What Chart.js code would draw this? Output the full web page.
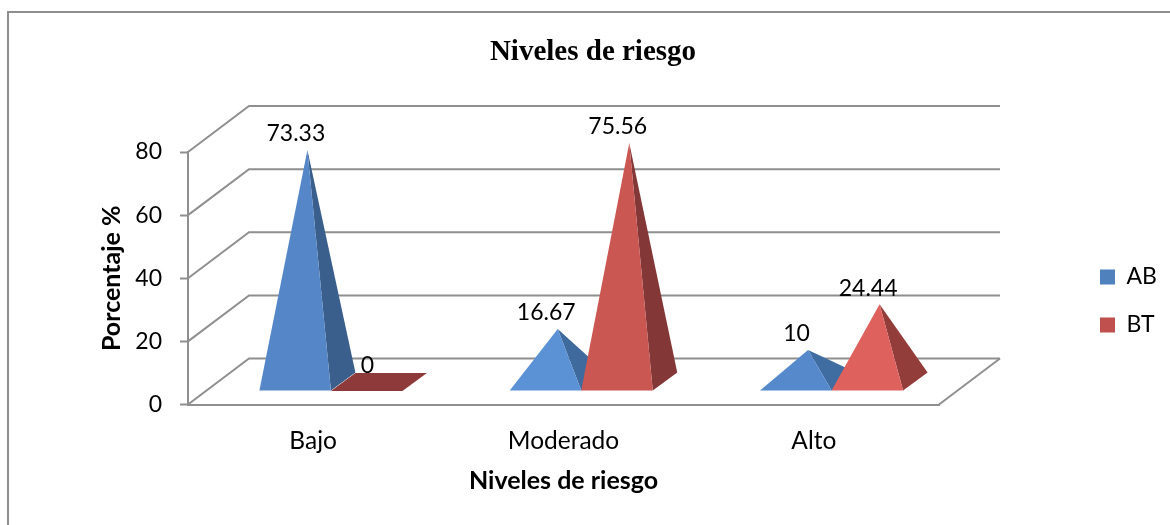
<!DOCTYPE html>
<html>
<head>
<meta charset="utf-8">
<title>Niveles de riesgo</title>
<script src="https://cdn.jsdelivr.net/npm/chart.js@4"></script>
<style>
  html, body { margin: 0; background: #fff; overflow: hidden; }
  .frame { position: absolute; left: 7px; top: 11px; right: 0; bottom: 0; border-left: 2px solid #8e8e8e; border-top: 2px solid #8e8e8e; }
  canvas { position: absolute; left: 0; top: 0; }
</style>
</head>
<body>
<div class="frame"></div>
<canvas class="myChart" width="1170" height="525"></canvas>
<script>
const categories = ["Bajo", "Moderado", "Alto"];
const valuesAB = [73.33, 16.67, 10];
const valuesBT = [0, 75.56, 24.44];
const yTicks = [0, 20, 40, 60, 80];

// cara frontal y cara lateral de cada piramide
const frontAB = ["#5587c8", "#5b92d6", "#5589cc"];
const sideAB = ["#3a5f8c", "#3e6a9e", "#3f6ca1"];
const frontBT = ["#c0504d", "#cb5753", "#df615e"];
const sideBT = ["#8f3a3a", "#843737", "#933d3b"];

const gridColor = "#8f8f8f";
const fontName = "Lato, sans-serif";
const floorDepth = { x: 61, y: -46 };
const baseDepth = { x: 24.5, y: -18 };

function polygon(ctx, points, color) {
  ctx.fillStyle = color;
  ctx.beginPath();
  points.forEach((p, i) => (i ? ctx.lineTo(p.x, p.y) : ctx.moveTo(p.x, p.y)));
  ctx.closePath();
  ctx.fill();
}

const chart3d = {
  id: "chart3d",
  beforeLayout(chart) {
    const legend = chart.legend;
    if (!legend.fitOriginal) {
      legend.fitOriginal = legend.fit;
      legend.fit = function () {
        this.fitOriginal();
        this.width = 231;
      };
    }
  },
  afterLayout(chart) {
    chart.legend.left = chart.chartArea.right + 136;
    chart.legend.top = 240.5;
  },
  beforeDatasetsDraw(chart) {
    const ctx = chart.ctx;
    const { left, right } = chart.chartArea;
    const y = chart.scales.y;
    ctx.save();
    ctx.strokeStyle = gridColor;
    ctx.lineWidth = 2;
    yTicks.forEach((v) => {
      const py = y.getPixelForValue(v);
      ctx.beginPath();
      ctx.moveTo(left, py);
      ctx.lineTo(left + floorDepth.x, py + floorDepth.y);
      ctx.lineTo(right + floorDepth.x, py + floorDepth.y);
      ctx.stroke();
    });
    const py0 = y.getPixelForValue(0);
    ctx.beginPath();
    ctx.moveTo(right, py0);
    ctx.lineTo(right + floorDepth.x, py0 + floorDepth.y);
    ctx.stroke();
    ctx.restore();
  },
  beforeDatasetDraw() {
    return false;
  },
  afterDatasetsDraw(chart) {
    const ctx = chart.ctx;
    const fronts = [frontAB, frontBT];
    const sides = [sideAB, sideBT];
    const shiftX = (floorDepth.x - baseDepth.x) / 2 - 0.5;
    const shiftY = (floorDepth.y - baseDepth.y) / 2 + 0.5;
    ctx.save();
    chart.data.datasets.forEach((ds, d) => {
      chart.getDatasetMeta(d).data.forEach((bar, i) => {
        const x0 = bar.x - bar.width / 2 + shiftX;
        const x1 = x0 + bar.width;
        const yf = bar.base + shiftY;
        const fl = { x: x0, y: yf };
        const fr = { x: x1, y: yf };
        const br = { x: x1 + baseDepth.x, y: yf + baseDepth.y };
        const bl = { x: x0 + baseDepth.x, y: yf + baseDepth.y };
        const apex = { x: (x0 + br.x) / 2, y: bar.y + floorDepth.y / 2 };
        if (ds.data[i] === 0) {
          polygon(ctx, [fl, fr, br, bl], sides[d][i]);
        } else {
          polygon(ctx, [apex, fr, br], sides[d][i]);
          polygon(ctx, [apex, fl, fr], fronts[d][i]);
        }
      });
    });
    // etiquetas de datos
    ctx.fillStyle = "#000";
    ctx.font = "23px " + fontName;
    ctx.textAlign = "center";
    ctx.textBaseline = "middle";
    chart.data.datasets.forEach((ds, d) => {
      chart.getDatasetMeta(d).data.forEach((bar, i) => {
        const ax = bar.x + floorDepth.x / 2;
        const ay = bar.y + floorDepth.y / 2;
        ctx.fillText(String(ds.data[i]), ax - 12, ay - 16);
      });
    });
    ctx.restore();
  },
};

const ctx = document.querySelector(".myChart").getContext("2d");
const myChart = new Chart(ctx, {
  type: "bar",
  data: {
    labels: categories,
    datasets: [
      { label: "AB", data: valuesAB, backgroundColor: "#4f81bd" },
      { label: "BT", data: valuesBT, backgroundColor: "#c0504d" },
    ],
  },
  plugins: [chart3d],
  options: {
    responsive: false,
    animation: false,
    barPercentage: 1,
    categoryPercentage: 2 / 3.5,
    layout: { padding: { left: 16, right: 0, top: 0, bottom: 0 } },
    plugins: {
      tooltip: { enabled: false },
      title: {
        display: true,
        text: "Niveles de riesgo",
        color: "#000",
        font: { family: "'Liberation Serif', serif", size: 29, weight: "bold", lineHeight: 1.2 },
        padding: { top: 35, bottom: 82.2 },
      },
      legend: {
        position: "right",
        align: "start",
        labels: {
          boxWidth: 15,
          boxHeight: 15,
          padding: 25,
          color: "#000",
          font: { family: fontName, size: 23 },
        },
      },
    },
    scales: {
      x: {
        afterFit(scale) {
          scale.height = 120.5;
        },
        grid: { drawOnChartArea: false, drawTicks: false },
        border: { color: gridColor, width: 2 },
        ticks: { color: "#000", padding: 22, font: { family: fontName, size: 24.5 } },
        title: {
          display: true,
          text: "Niveles de riesgo",
          color: "#000",
          font: { family: fontName, size: 25, weight: "bold", lineHeight: 1.2 },
          padding: { top: 0, bottom: 29 },
        },
      },
      y: {
        min: 0,
        max: 80,
        afterFit(scale) {
          scale.width = 172;
        },
        afterBuildTicks(scale) {
          scale.ticks = yTicks.map((v) => ({ value: v }));
        },
        grid: { drawOnChartArea: false, tickLength: 8, tickColor: gridColor, tickWidth: 2 },
        border: { color: gridColor, width: 2 },
        ticks: { color: "#000", padding: 18, font: { family: fontName, size: 23 } },
        title: {
          display: true,
          text: "Porcentaje %",
          color: "#000",
          font: { family: fontName, size: 25, weight: "bold", lineHeight: 1.2 },
          padding: { top: 81, bottom: 0 },
        },
      },
    },
  },
});
</script>
</body>
</html>
